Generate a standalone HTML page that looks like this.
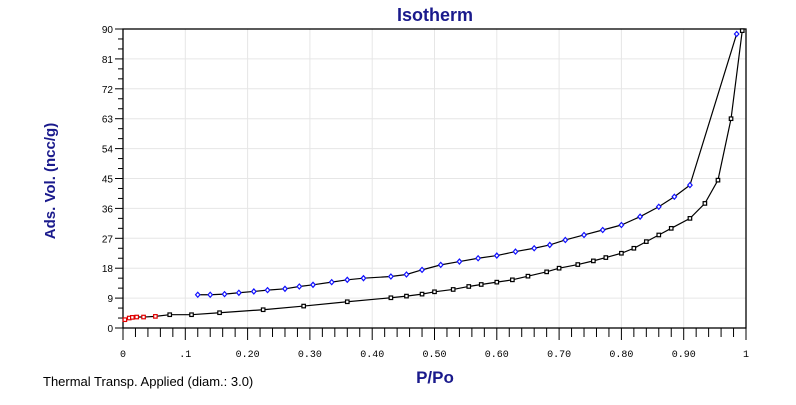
<!DOCTYPE html>
<html><head><meta charset="utf-8"><style>
body{margin:0;background:#fff;width:796px;height:400px;overflow:hidden;font-family:"Liberation Sans",sans-serif}
</style></head><body>
<svg id="chart" width="796" height="400" xmlns="http://www.w3.org/2000/svg">
<text x="435" y="21" font-size="18" font-weight="bold" fill="#1a1a8c" text-anchor="middle">Isotherm</text>
<g id="grid"></g>
<g id="axes"></g>
<g id="series"></g>
<text x="0" y="0" transform="translate(55,181) rotate(-90)" font-size="15" font-weight="bold" fill="#1a1a8c" text-anchor="middle">Ads. Vol. (ncc/g)</text>
<text x="435" y="383" font-size="17" font-weight="bold" fill="#1a1a8c" text-anchor="middle">P/Po</text>
<text x="43" y="386" font-size="13" fill="#000">Thermal Transp. Applied (diam.: 3.0)</text>
</svg>
<script>
const xTicks=[0,0.1,0.2,0.3,0.4,0.5,0.6,0.7,0.8,0.9,1];
const xTickLabels=["0",".1","0.20","0.30","0.40","0.50","0.60","0.70","0.80","0.90","1"];
const yTicks=[0,9,18,27,36,45,54,63,72,81,90];
const lowX=[0.003,0.01,0.015,0.022,0.033,0.052];
const lowY=[2.5,3.0,3.2,3.3,3.3,3.5];
const adsX=[0.052,0.075,0.11,0.155,0.225,0.29,0.36,0.43,0.455,0.48,0.50,0.53,0.555,0.575,0.60,0.625,0.65,0.68,0.70,0.73,0.755,0.775,0.80,0.82,0.84,0.86,0.88,0.91,0.934,0.955,0.976,0.994];
const adsY=[3.5,4.0,4.0,4.6,5.5,6.6,7.9,9.1,9.6,10.2,10.9,11.6,12.5,13.1,13.8,14.5,15.6,16.9,18.0,19.1,20.2,21.2,22.5,24.0,26.0,28.0,30.0,33.0,37.5,44.5,63,89.5];
const desX=[0.12,0.14,0.163,0.186,0.21,0.232,0.26,0.283,0.305,0.335,0.36,0.386,0.43,0.455,0.48,0.51,0.54,0.57,0.60,0.63,0.66,0.685,0.71,0.74,0.77,0.80,0.83,0.86,0.885,0.91,0.985];
const desY=[10.0,10.0,10.2,10.6,11.0,11.4,11.8,12.5,13.0,13.8,14.5,15.0,15.5,16.1,17.5,19.0,20.0,21.0,21.8,23.0,24.0,25.0,26.5,28.0,29.5,31.0,33.5,36.5,39.5,43.0,88.5];
const L=123,R=746,T=29,B=328,NS="http://www.w3.org/2000/svg";
const sx=v=>L+v*(R-L), sy=v=>B-v/90*(B-T);
function mk(p,tag,at){const e=document.createElementNS(NS,tag);for(const k in at)e.setAttribute(k,at[k]);p.appendChild(e);return e;}
const grid=document.getElementById('grid'),axes=document.getElementById('axes'),ser=document.getElementById('series');
xTicks.forEach((t,i)=>{
 const g=mk(grid,'line',{x1:sx(t),x2:sx(t),y1:T,y2:B,stroke:'#e6e6e6'});
 
 
 const tx=mk(axes,'text',{x:sx(t),y:357,'font-size':10,'text-anchor':'middle',fill:'#000','font-family':'Liberation Mono, monospace'});
 tx.textContent=xTickLabels[i];
 
 
});
for(let k=0;k<=50;k++){const v=k*0.02;mk(axes,'line',{x1:sx(v),x2:sx(v),y1:B,y2:B+(k%5==0?12:9),stroke:'#000'});}
yTicks.forEach(t=>{
 const g=mk(grid,'line',{x1:L,x2:R,y1:sy(t),y2:sy(t),stroke:'#e6e6e6'});
 
 
 const tx=mk(axes,'text',{x:113,y:sy(t)+4,'font-size':10,'text-anchor':'end',fill:'#000'});
 tx.textContent=t;
 
 
});
for(let k=0;k<=30;k++){const v=k*3;mk(axes,'line',{x1:L-(k%3==0?8:5),x2:L,y1:sy(v),y2:sy(v),stroke:'#000'});}
const fr=mk(axes,'rect',{x:L,y:T,width:R-L,height:B-T,fill:'none',stroke:'#000','stroke-width':1.3});


function line(xs,ys,name){const p=mk(ser,'polyline',{points:xs.map((x,i)=>sx(x)+','+sy(ys[i])).join(' '),fill:'none',stroke:'#000','stroke-width':1.2});
 
 }
line(adsX,adsY,'adsorption-line');
line(desX,desY,'desorption-line');
line(lowX,lowY,'low-pressure-line');
adsX.forEach((x,i)=>{if(i==0)return;const m=mk(ser,'rect',{x:sx(x)-1.75,y:sy(adsY[i])-1.75,width:3.5,height:3.5,fill:'#fff',stroke:'#000','stroke-width':1.2});
 
 });
lowX.forEach((x,i)=>{const m=mk(ser,'rect',{x:sx(x)-1.75,y:sy(lowY[i])-1.75,width:3.5,height:3.5,fill:'#fff',stroke:'#e00000','stroke-width':1.2});
 
 });
desX.forEach((x,i)=>{const cx=sx(x),cy=sy(desY[i]);const m=mk(ser,'polygon',{points:`${cx},${cy-2.5} ${cx+2.2},${cy} ${cx},${cy+2.5} ${cx-2.2},${cy}`,fill:'#fff',stroke:'#1010ff','stroke-width':1.2});
 
 });
</script>
</body></html>
